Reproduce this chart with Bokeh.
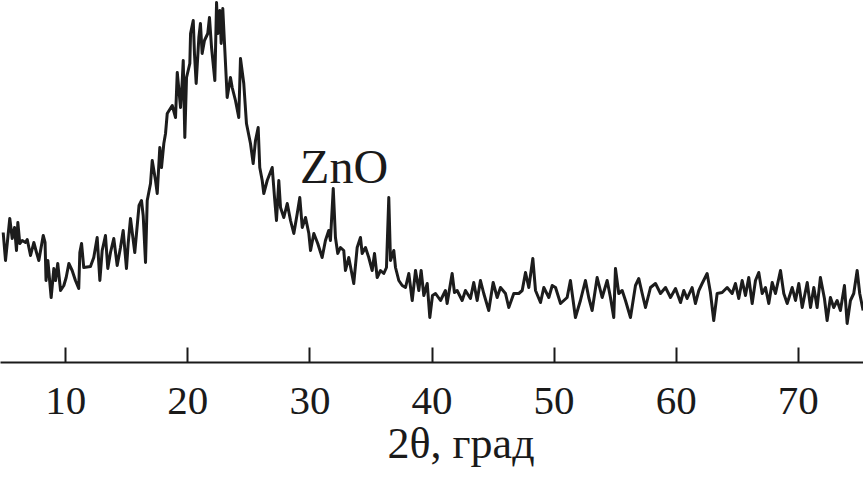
from bokeh.plotting import figure
from bokeh.models import Range1d, FixedTicker, Title
from bokeh.core.properties import value
from bokeh.embed import file_html
from bokeh.resources import INLINE

# 2theta (degrees) and intensity (arb. units)
twotheta = [
    4.87, 5.06, 5.41, 5.61, 5.80, 5.96, 6.07, 6.23, 6.43, 6.70, 6.84, 7.11, 7.38, 7.60, 7.79, 8.15, 8.30, 8.38, 8.53, 8.80,
    9.02, 9.16, 9.34, 9.57, 9.84, 10.03, 10.25, 10.52, 10.79, 11.06, 11.15, 11.29, 11.47, 12.02, 12.29, 12.57, 12.79, 12.98, 13.25, 13.44,
    13.66, 13.93, 14.21, 14.48, 14.70, 14.97, 15.11, 15.30, 15.65, 16.00, 16.20, 16.34, 16.53, 16.67, 16.94, 17.08, 17.35, 17.49, 17.70, 17.84,
    18.03, 18.17, 18.31, 18.72, 18.99, 19.13, 19.40, 19.54, 19.62, 19.75, 19.89, 20.16, 20.22, 20.44, 20.54, 20.68, 20.90, 21.03, 21.17, 21.36,
    21.63, 21.77, 21.94, 22.21, 22.35, 22.45, 22.62, 22.73, 22.86, 23.03, 23.22, 23.49, 23.63, 23.90, 24.17, 24.31, 24.58, 24.80, 25.13, 25.35,
    25.54, 25.76, 25.89, 26.09, 26.22, 26.50, 26.91, 27.10, 27.26, 27.45, 27.59, 27.86, 28.14, 28.41, 28.68, 28.96, 29.17, 29.37, 29.64, 29.91,
    30.05, 30.32, 30.64, 31.00, 31.27, 31.54, 31.68, 31.91, 32.09, 32.28, 32.50, 32.77, 32.91, 33.18, 33.59, 33.87, 34.14, 34.28, 34.55, 34.82,
    35.10, 35.29, 35.51, 35.78, 36.05, 36.27, 36.46, 36.60, 36.87, 37.01, 37.28, 37.56, 37.83, 38.10, 38.38, 38.65, 38.92, 39.11, 39.33, 39.61,
    39.82, 40.04, 40.29, 40.70, 41.10, 41.24, 41.65, 41.84, 42.06, 42.47, 42.74, 43.15, 43.42, 43.70, 43.97, 44.24, 44.65, 45.01, 45.34, 45.61,
    46.02, 46.29, 46.70, 47.11, 47.39, 47.66, 47.93, 48.26, 48.48, 48.89, 49.16, 49.57, 49.85, 50.12, 50.53, 51.07, 51.34, 51.75, 52.16, 52.57,
    52.84, 53.12, 53.53, 53.94, 54.35, 54.62, 54.89, 55.03, 55.30, 55.58, 55.85, 56.26, 56.67, 56.94, 57.22, 57.49, 57.90, 58.31, 58.72, 59.13,
    59.54, 59.95, 60.36, 60.63, 60.90, 61.31, 61.58, 61.86, 62.13, 62.54, 62.81, 63.08, 63.36, 63.77, 64.18, 64.59, 64.86, 65.13, 65.41, 65.68,
    65.95, 66.23, 66.50, 66.77, 67.05, 67.32, 67.59, 67.87, 68.14, 68.55, 68.82, 69.10, 69.51, 69.78, 70.05, 70.33, 70.74, 71.01, 71.28, 71.55,
    71.82, 72.15, 72.37, 72.64, 72.91, 73.19, 73.46, 73.79, 74.01, 74.28, 74.55, 74.83, 75.04, 75.32,
]
intensity = [
    130, 102, 144, 124, 135, 112, 140, 119, 122, 120, 123, 107, 120, 110, 102, 127, 120, 82, 102, 65,
    94, 82, 99, 72, 77, 85, 99, 92, 82, 74, 110, 119, 95, 96, 105, 125, 82, 112, 127, 94,
    110, 124, 97, 115, 132, 94, 119, 144, 110, 157, 162, 147, 100, 162, 179, 202, 182, 169, 215, 195,
    219, 229, 249, 257, 245, 290, 255, 282, 302, 225, 285, 299, 329, 342, 309, 279, 325, 339, 309, 322,
    329, 345, 315, 282, 360, 329, 352, 319, 354, 312, 265, 285, 275, 262, 245, 304, 279, 239, 219, 199,
    222, 235, 195, 182, 169, 182, 195, 165, 142, 182, 155, 145, 159, 142, 129, 149, 165, 135, 145, 129,
    112, 129, 119, 105, 122, 132, 122, 174, 125, 109, 115, 112, 92, 105, 79, 115, 125, 109, 115, 105,
    92, 109, 85, 92, 89, 95, 165, 102, 112, 95, 82, 77, 75, 89, 62, 92, 72, 92, 67, 79,
    45, 67, 69, 62, 72, 59, 89, 70, 72, 62, 72, 64, 80, 62, 82, 69, 52, 80, 65, 75,
    69, 55, 69, 69, 72, 90, 75, 104, 72, 60, 75, 65, 77, 75, 59, 65, 82, 45, 62, 82,
    65, 52, 85, 65, 82, 65, 45, 94, 69, 72, 62, 45, 77, 84, 69, 55, 75, 79, 69, 75,
    65, 74, 60, 72, 64, 75, 59, 72, 79, 89, 70, 42, 69, 70, 75, 69, 79, 64, 82, 67,
    85, 59, 82, 90, 69, 75, 59, 80, 69, 92, 69, 59, 75, 62, 79, 55, 80, 55, 75, 55,
    85, 64, 42, 65, 55, 62, 52, 77, 39, 62, 69, 92, 69, 52,
]
assert len(twotheta) == len(intensity)

tick_values = [10, 20, 30, 40, 50, 60, 70]
x_title = "2θ, град"
peak_label = "ZnO"
peak_label_x = [32.8]
peak_label_y = [196]

SERIF = "Liberation Serif"
INK = "#1a1a1a"

p = figure(
    width=863, height=477,
    x_range=Range1d(4.65, 75.35), y_range=Range1d(0, 362),
    output_backend="svg", toolbar_location=None,
    y_axis_location=None,
    min_border_left=0, min_border_right=0, min_border_top=0, min_border_bottom=115,
)
p.outline_line_color = None
p.grid.visible = False
p.background_fill_color = "white"
p.border_fill_color = "white"

p.line(twotheta, intensity, line_color="#1c1c1c", line_width=3, line_join="round")

p.text(x=peak_label_x, y=peak_label_y, text=[peak_label],
       text_font=value(SERIF), text_font_size="48px", text_color=INK,
       text_align="center", text_baseline="alphabetic")

ax = p.xaxis[0]
ax.ticker = FixedTicker(ticks=tick_values)
ax.minor_tick_line_color = None
ax.major_tick_in = 15
ax.major_tick_out = 0
ax.major_tick_line_width = 2
ax.major_tick_line_color = INK
ax.axis_line_width = 2
ax.axis_line_color = INK
ax.major_label_text_font = SERIF
ax.major_label_text_font_size = "41px"
ax.major_label_text_color = INK
ax.major_label_standoff = 25

title = Title(text=x_title, align="left", offset=387, standoff=1,
              text_font=SERIF, text_font_size="44px", text_font_style="normal",
              text_color=INK)
p.add_layout(title, "below")

open("out.html", "w").write(file_html(p, INLINE))
